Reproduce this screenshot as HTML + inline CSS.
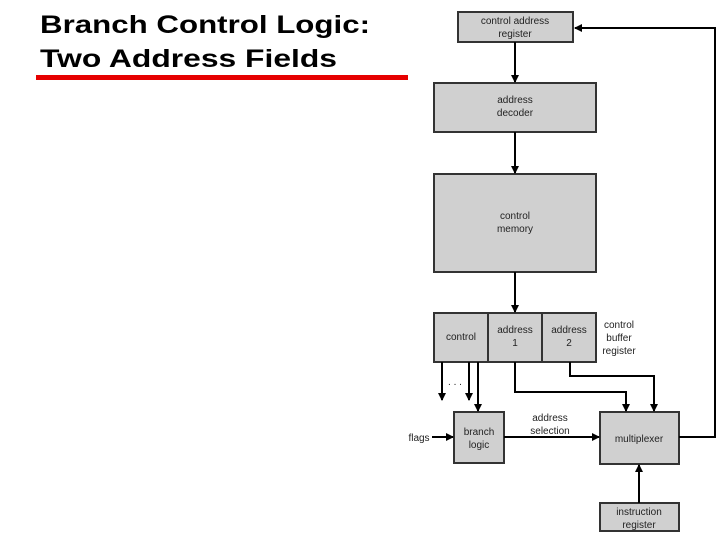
<!DOCTYPE html>
<html><head><meta charset="utf-8"><style>
html,body{margin:0;padding:0;background:#fff;}
svg{display:block;}
text{font-family:"Liberation Sans",Arial,sans-serif;}
</style></head><body>
<svg width="720" height="540" viewBox="0 0 720 540" xmlns="http://www.w3.org/2000/svg">
<defs>
<marker id="a" markerWidth="8" markerHeight="8" refX="7" refY="4" orient="auto" markerUnits="userSpaceOnUse">
<path d="M0,0 L8,4 L0,8 z" fill="#000"/></marker>
</defs>
<text x="40" y="33" font-size="25" font-weight="bold" textLength="330" lengthAdjust="spacingAndGlyphs">Branch Control Logic:</text>
<text x="40" y="67" font-size="25" font-weight="bold" textLength="297" lengthAdjust="spacingAndGlyphs">Two Address Fields</text>
<rect x="36" y="75" width="372" height="5" fill="#e60000"/>
<g fill="#d0d0d0" stroke="#333" stroke-width="2">
<rect x="458" y="12" width="115" height="30"/>
<rect x="434" y="83" width="162" height="49"/>
<rect x="434" y="174" width="162" height="98"/>
<rect x="434" y="313" width="162" height="49"/>
<rect x="454" y="412" width="50" height="51"/>
<rect x="600" y="412" width="79" height="52"/>
<rect x="600" y="503" width="79" height="28"/>
</g>
<g stroke="#333" stroke-width="2"><line x1="488" y1="313" x2="488" y2="362"/><line x1="542" y1="313" x2="542" y2="362"/></g>
<g stroke="#000" stroke-width="2" fill="none" marker-end="url(#a)">
<line x1="515" y1="42" x2="515" y2="82"/>
<line x1="515" y1="132" x2="515" y2="173"/>
<line x1="515" y1="272" x2="515" y2="312"/>
<line x1="442" y1="362" x2="442" y2="400"/>
<line x1="469" y1="362" x2="469" y2="400"/>
<line x1="478" y1="362" x2="478" y2="411"/>
<polyline points="515,362 515,392 626,392 626,411"/>
<polyline points="570,362 570,376 654,376 654,411"/>
<polyline points="679,437 715,437 715,28 575,28"/>
<line x1="639" y1="503" x2="639" y2="465"/>
<line x1="432" y1="437" x2="453" y2="437"/>
<line x1="504" y1="437" x2="599" y2="437"/>
</g>
<g font-size="10" fill="#222" text-anchor="middle">
<text x="515" y="24">control address</text><text x="515" y="37">register</text>
<text x="515" y="103">address</text><text x="515" y="116">decoder</text>
<text x="515" y="219">control</text><text x="515" y="232">memory</text>
<text x="461" y="340">control</text>
<text x="515" y="333">address</text><text x="515" y="346">1</text>
<text x="569" y="333">address</text><text x="569" y="346">2</text>
<text x="619" y="328">control</text><text x="619" y="341">buffer</text><text x="619" y="354">register</text>
<text x="455" y="385">. . .</text>
<text x="479" y="435">branch</text><text x="479" y="448">logic</text>
<text x="550" y="421">address</text><text x="550" y="434">selection</text>
<text x="639" y="442">multiplexer</text>
<text x="639" y="515">instruction</text><text x="639" y="528">register</text>
<text x="419" y="441">flags</text>
</g>
</svg>
</body></html>
